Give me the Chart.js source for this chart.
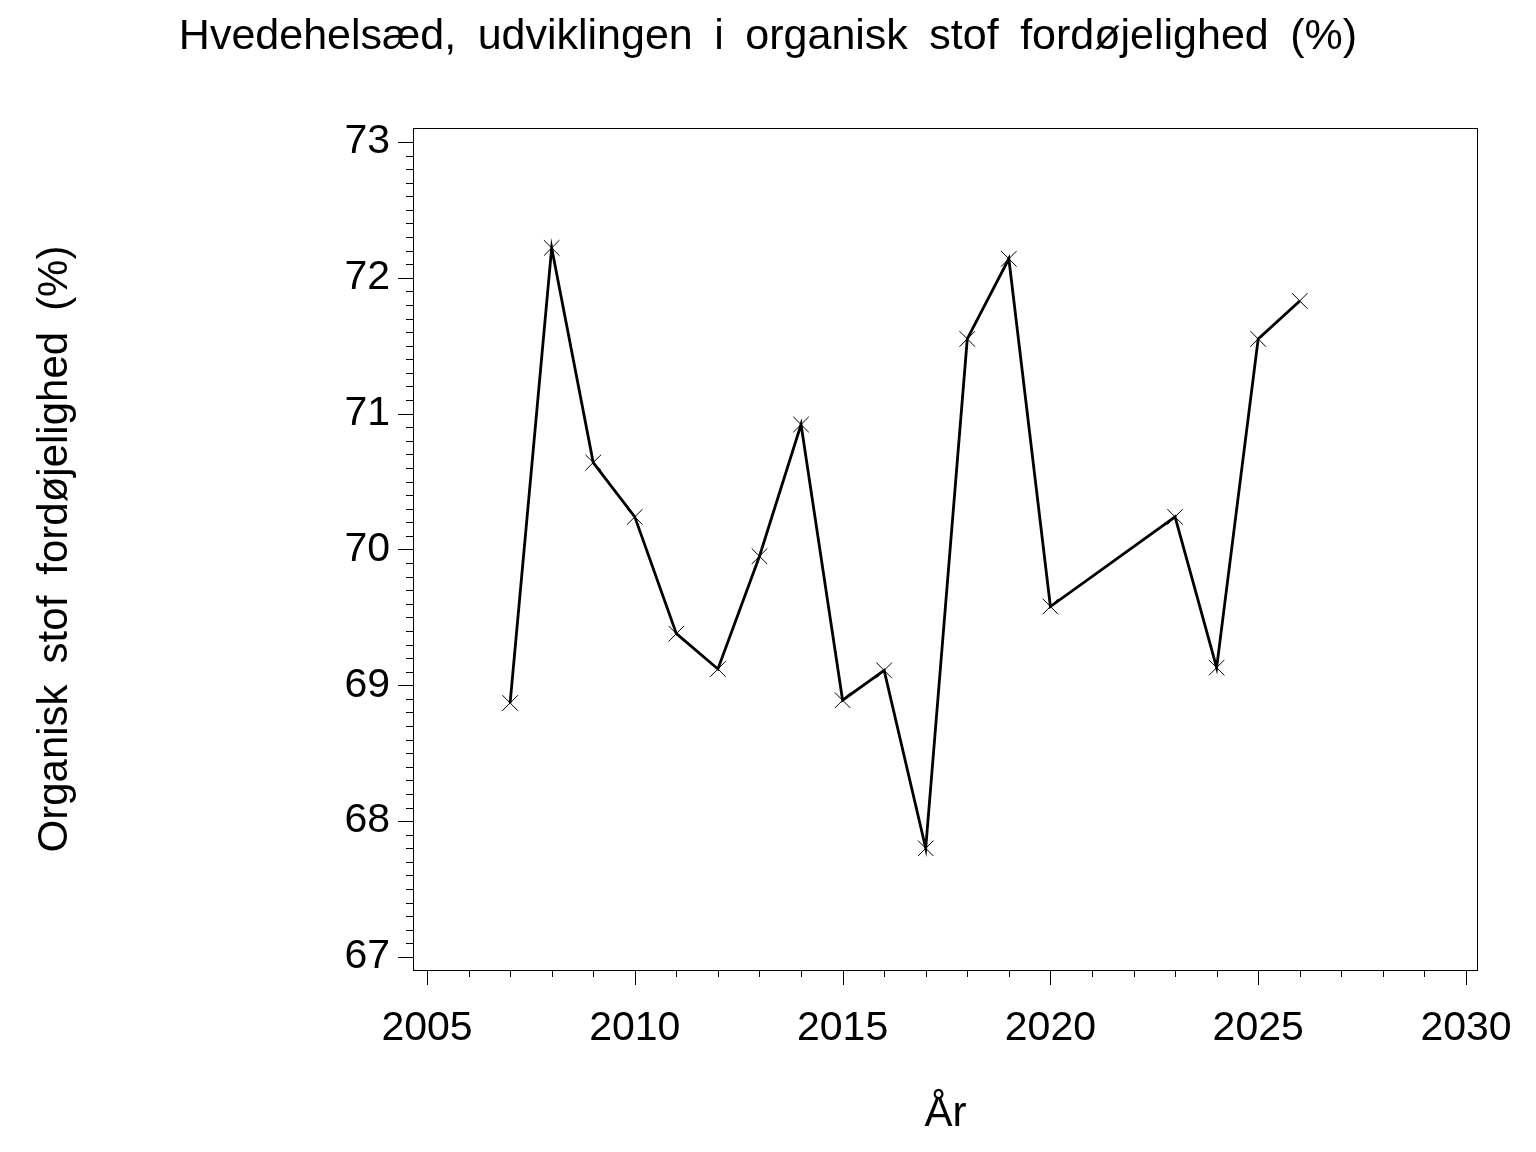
<!DOCTYPE html>
<html>
<head>
<meta charset="utf-8">
<script src="https://cdn.jsdelivr.net/npm/chart.js@4/dist/chart.umd.min.js"></script>
<style>
    body { margin: 0; background: #fff; }
    #digestChart { display: block; }
</style>
</head>
<body>
<canvas id="digestChart" width="1536" height="1152"></canvas>
<script>
const years = [2007, 2008, 2009, 2010, 2011, 2012, 2013, 2014, 2015, 2016, 2017, 2018, 2019, 2020, 2023, 2024, 2025, 2026];
const digestibility = [68.87, 72.22, 70.64, 70.24, 69.38, 69.12, 69.95, 70.92, 68.89, 69.11, 67.80, 71.55, 72.14, 69.58, 70.24, 69.13, 71.55, 71.83];
const xTicks = [2005, 2010, 2015, 2020, 2025, 2030];
const yTicks = [67, 68, 69, 70, 71, 72, 73];

const FONT = "'Liberation Sans', Arial, sans-serif";
// the original uses wide gaps between words; an en space gets close
const wide = (s) => s.split(" ").join("\u2002");

// frame round the plot area plus major/minor tick marks outside it
const frameTicks = {
    id: "frameTicks",
    afterDraw(chart) {
        const { ctx, chartArea: a, scales } = chart;
        const x = scales.x, y = scales.y;
        ctx.save();
        ctx.strokeStyle = "#000";
        ctx.lineWidth = 1;
        ctx.strokeRect(a.left + 0.5, a.top + 0.5, a.right - a.left - 1, a.bottom - a.top);

        ctx.beginPath();
        for (let yr = xTicks[0]; yr <= xTicks[xTicks.length - 1]; yr++) {
            const px = Math.round(x.getPixelForValue(yr)) + 0.5;
            const len = yr % 5 === 0 ? 15 : 7;
            ctx.moveTo(px, a.bottom);
            ctx.lineTo(px, a.bottom + len);
        }
        for (let i = 0; i <= 60; i++) {
            const v = yTicks[0] + i / 10;
            const py = Math.round(y.getPixelForValue(v)) + 0.5;
            const len = i % 10 === 0 ? 15 : 7;
            ctx.moveTo(a.left, py);
            ctx.lineTo(a.left - len, py);
        }
        ctx.stroke();
        ctx.restore();
    }
};

function renderChart() {
    const ctx = document.getElementById("digestChart").getContext("2d");

    new Chart(ctx, {
        type: "line",
        data: {
            datasets: [{
                data: years.map((yr, i) => ({ x: yr, y: digestibility[i] })),
                borderColor: "#000",
                borderWidth: 2.8,
                tension: 0,
                pointStyle: "crossRot",
                pointRadius: 11,
                pointBorderWidth: 1,
                pointBorderColor: "#000",
                pointBackgroundColor: "#000"
            }]
        },
        options: {
            responsive: false,
            animation: false,
            devicePixelRatio: 1,
            layout: { padding: 0 },
            plugins: {
                legend: { display: false },
                tooltip: { enabled: false },
                title: {
                    display: true,
                    text: wide("Hvedehelsæd, udviklingen i organisk stof fordøjelighed (%)"),
                    color: "#000",
                    font: { family: FONT, size: 43, weight: "normal" },
                    padding: { top: 11, bottom: 65.4 }
                }
            },
            scales: {
                x: {
                    type: "linear",
                    min: 2004.663,
                    max: 2030.289,
                    afterFit: (s) => {
                        s.height = 182;
                        s.paddingLeft = 0;
                        s.paddingRight = 0;
                    },
                    afterBuildTicks: (s) => { s.ticks = xTicks.map((v) => ({ value: v })); },
                    grid: { display: false, drawTicks: false },
                    border: { display: false },
                    ticks: {
                        color: "#000",
                        font: { family: FONT, size: 41 },
                        padding: 34,
                        maxRotation: 0,
                        callback: (v) => String(v)
                    },
                    title: {
                        display: true,
                        text: "År",
                        color: "#000",
                        font: { family: FONT, size: 42 },
                        padding: { bottom: 12 }
                    }
                },
                y: {
                    min: 66.904,
                    max: 73.103,
                    afterFit: (s) => {
                        s.width = 413;
                        s.paddingTop = 0;
                        s.paddingBottom = 0;
                    },
                    afterBuildTicks: (s) => { s.ticks = yTicks.map((v) => ({ value: v })); },
                    grid: { display: false, drawTicks: false },
                    border: { display: false },
                    ticks: {
                        color: "#000",
                        font: { family: FONT, size: 41 },
                        padding: 23,
                        callback: (v) => String(v)
                    },
                    title: {
                        display: true,
                        text: wide("Organisk stof fordøjelighed (%)"),
                        color: "#000",
                        font: { family: FONT, size: 42 },
                        padding: { top: 30 }
                    }
                },
                // empty right-hand axis: only keeps a margin right of the plot
                spacer: {
                    type: "linear",
                    position: "right",
                    afterFit: (s) => {
                        s.width = 58;
                        s.paddingTop = 0;
                        s.paddingBottom = 0;
                    },
                    grid: { display: false, drawTicks: false },
                    border: { display: false },
                    ticks: { display: false }
                }
            }
        },
        plugins: [frameTicks]
    });
}

document.addEventListener("DOMContentLoaded", renderChart);
</script>
</body>
</html>
